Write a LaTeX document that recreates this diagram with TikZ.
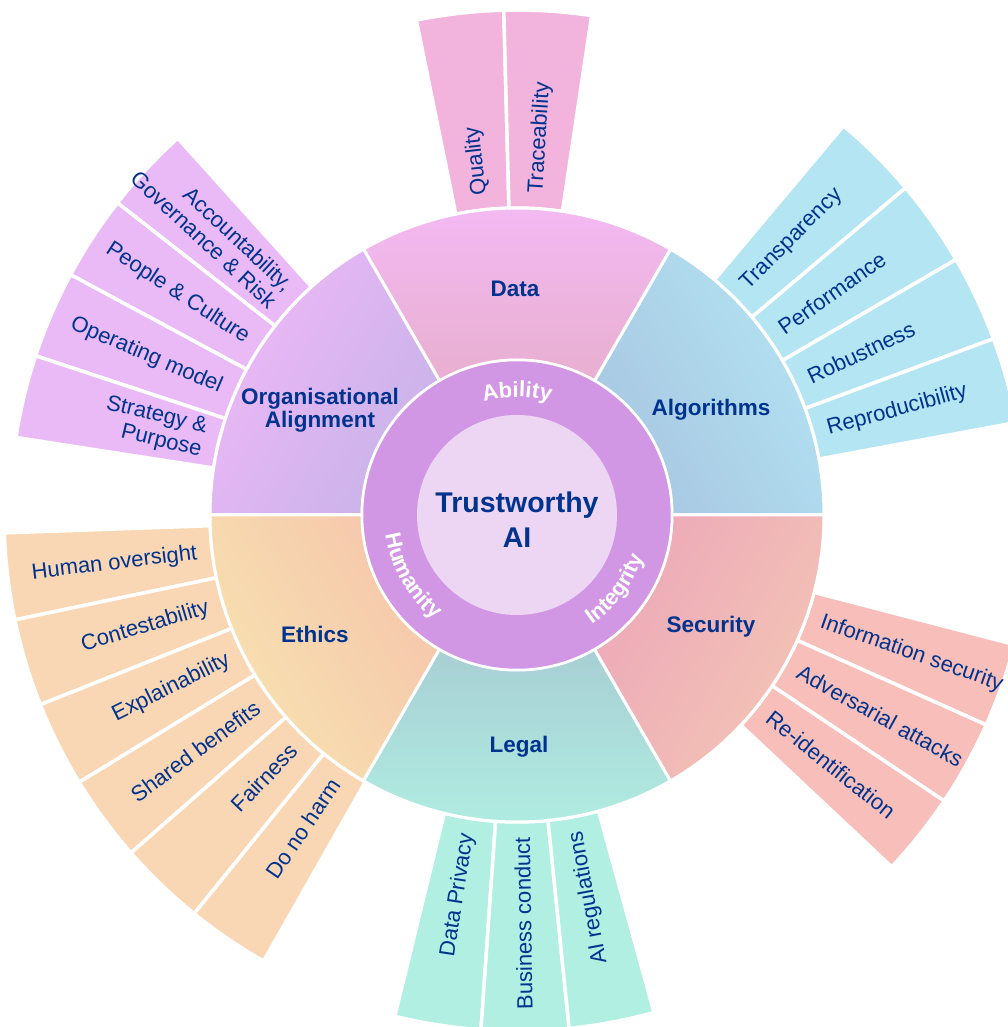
\documentclass[tikz,border=0pt]{standalone}
\usepackage{fontspec}
\setmainfont{Liberation Sans}
\usetikzlibrary{decorations.text}
\definecolor{kpmg_blue}{HTML}{00338D}
\definecolor{core_lilac}{HTML}{EDD6F4}
\definecolor{ring_purple}{HTML}{D297E4}
\definecolor{data_in}{HTML}{E8AFD0}
\definecolor{data_out}{HTML}{F4BAF5}
\definecolor{data_leaf}{HTML}{F2B3DD}
\definecolor{algo_in}{HTML}{A8C7E1}
\definecolor{algo_out}{HTML}{B3E3F3}
\definecolor{algo_leaf}{HTML}{B4E5F2}
\definecolor{sec_in}{HTML}{EDA9B9}
\definecolor{sec_out}{HTML}{F3C5B5}
\definecolor{sec_leaf}{HTML}{F7BEBA}
\definecolor{legal_in}{HTML}{A8CFD4}
\definecolor{legal_out}{HTML}{B0EEE2}
\definecolor{legal_leaf}{HTML}{B0EFE2}
\definecolor{eth_in}{HTML}{F5C6AC}
\definecolor{eth_out}{HTML}{F8E3B0}
\definecolor{eth_leaf}{HTML}{FAD7B4}
\definecolor{org_in}{HTML}{C8B3E9}
\definecolor{org_out}{HTML}{EEB8F7}
\definecolor{org_leaf}{HTML}{E9BAF6}
\tikzset{
  petal/.style={draw=white, line width=3.5pt},
  wedge/.style={draw=white, line width=3pt},
  leaf/.style={text=kpmg_blue, inner sep=0pt, align=right, font=\fontsize{22}{24}\selectfont},
  branch/.style={text=kpmg_blue, align=center, font=\bfseries\fontsize{22.5}{23}\selectfont},
  pillar/.style={decorate, decoration={text along path, text align=center,
    text={|\bfseries\fontsize{22}{22}\selectfont\color{white}|#1}}},
}

\begin{document}
\begin{tikzpicture}[x=1pt, y=1pt]
	\useasboundingbox (-517,-512) rectangle (491,515);
	\clip (-517,-512) rectangle (491,515);
	\foreach \col/\r/\a/\b/\txt [count=\i] in {
		data_leaf/505/91.5/101.5/Quality, data_leaf/505/81.5/91.5/Traceability,
		algo_leaf/508/40.1/50/Transparency, algo_leaf/508/30.2/40.1/Performance,
		algo_leaf/508/20.3/30.2/Robustness, algo_leaf/508/10.5/20.3/Reproducibility,
		sec_leaf/514/-24.1/-14.6/Information security, sec_leaf/514/-33.8/-24.1/Adversarial attacks,
		sec_leaf/514/-43.2/-33.8/Re-identification}
	{
		\pgfmathsetmacro\m{(\a+\b)/2}
		\filldraw[petal, fill=\col] (\a:307) arc[start angle=\a, end angle=\b, radius=307]
			-- (\b:\r) arc[start angle=\b, end angle=\a, radius=\r] -- cycle;
		\node[leaf, anchor=west, rotate=\m] (out\i) at (\m:322) {\txt};
	}
	\foreach \col/\r/\a/\b/\txt [count=\i] in {
		org_leaf/507/132/142/{Accountability,\\Governance \& Risk}, org_leaf/507/142/151.7/People \& Culture,
		org_leaf/507/151.7/161.7/Operating model, org_leaf/507/161.7/171.2/{Strategy \&\\Purpose},
		eth_leaf/513/182/191.8/Human oversight, eth_leaf/513/191.8/201.7/Contestability,
		eth_leaf/513/201.7/211.4/Explainability, eth_leaf/513/211.4/221.2/Shared benefits,
		eth_leaf/513/221.2/231/Fairness, eth_leaf/513/231/240.4/Do no harm,
		legal_leaf/516/256.3/266/Data Privacy, legal_leaf/516/266/275.8/Business conduct,
		legal_leaf/516/275.8/285.4/AI regulations}
	{
		\pgfmathsetmacro\m{(\a+\b)/2}
		\pgfmathsetmacro\rot{\m-180}
		\filldraw[petal, fill=\col] (\a:307) arc[start angle=\a, end angle=\b, radius=307]
			-- (\b:\r) arc[start angle=\b, end angle=\a, radius=\r] -- cycle;
		\node[leaf, anchor=east, rotate=\rot] (in\i) at (\m:322) {\txt};
	}
	\foreach \a/\name/\txt/\x/\y in {0/algo/Algorithms/194/105, 60/data/Data/-2/226,
		120/org/{Organisational\\Alignment}/-197/105, 180/eth/Ethics/-202/-119,
		240/legal/Legal/2/-232, 300/sec/Security/194/-112}
	{
		\pgfmathsetmacro\sa{\a-60}
		\pgfmathsetmacro\b{\a+60}
		\shadedraw[wedge, top color=\name_out, bottom color=\name_in, shading angle=\sa]
			(\a:155) arc[start angle=\a, end angle=\b, radius=155]
			-- (\b:307) arc[start angle=\b, end angle=\a, radius=307] -- cycle;
		\node[branch] (\name) at (\x,\y) {\txt};
	}
	\filldraw[fill=ring_purple, draw=white, line width=2.5pt] (0,0) circle[radius=155];
	\fill[core_lilac] (0,0) circle[radius=100];
	\node[text=kpmg_blue, align=center, font=\bfseries\fontsize{28.5}{35}\selectfont] (core) at (0,-5) {Trustworthy\\AI};
	\path[pillar=Ability] (125:118) arc[start angle=125, end angle=55, radius=118];
	\path[pillar=Integrity] (-72:133) arc[start angle=-72, end angle=-2, radius=133];
	\path[pillar=Humanity] (-185:133) arc[start angle=-185, end angle=-115, radius=133];
\end{tikzpicture}
\end{document}
